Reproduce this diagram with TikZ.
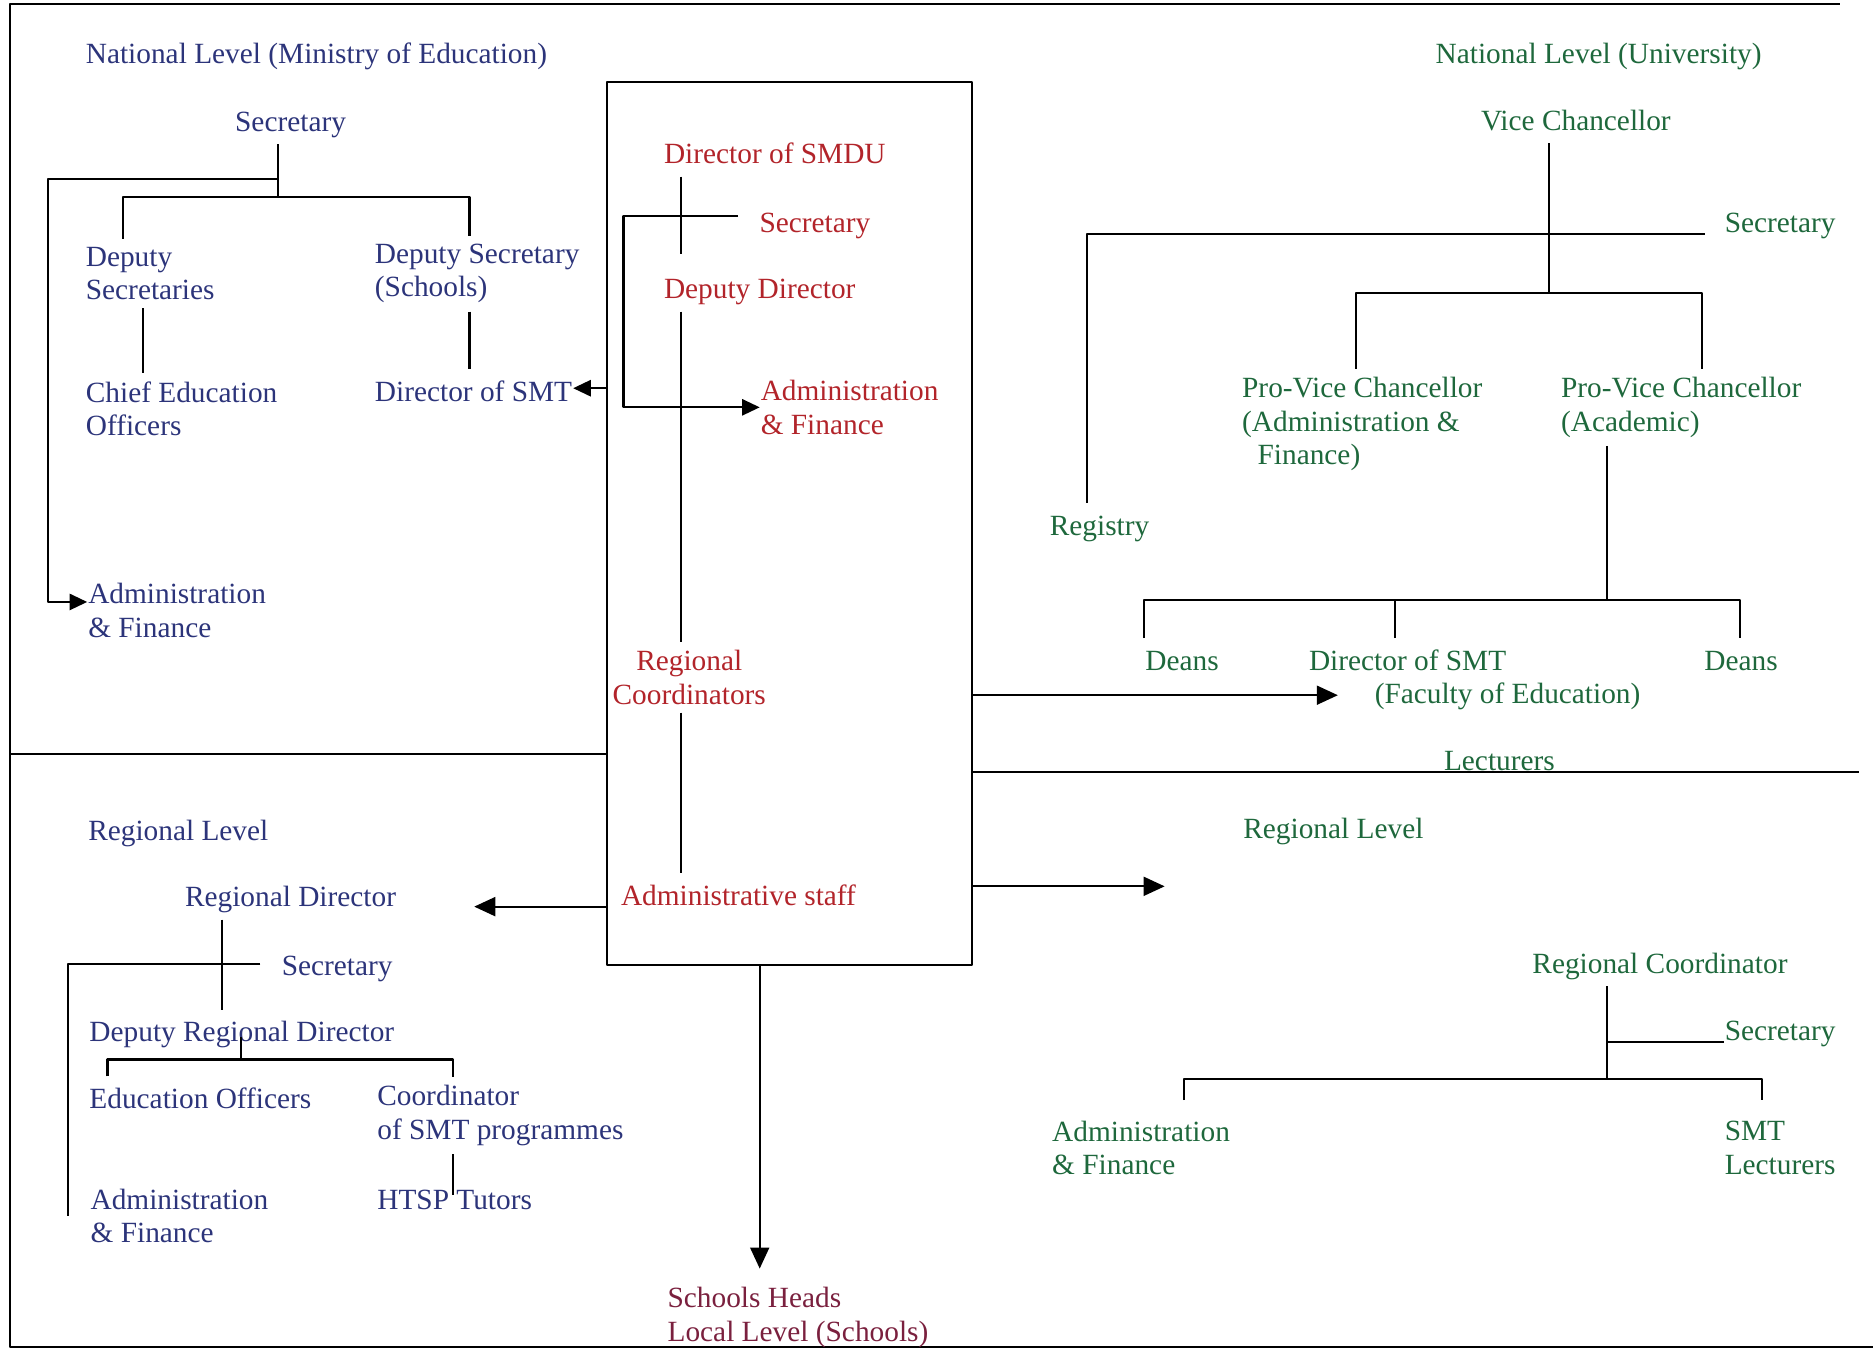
\documentclass[tikz,border=0pt]{standalone}
\usepackage{fontspec}
\setmainfont{Liberation Serif}
\usetikzlibrary{arrows.meta}
\definecolor{minblue}{RGB}{44,52,122}
\definecolor{smdured}{RGB}{178,36,42}
\definecolor{unigreen}{RGB}{30,104,60}
\definecolor{schmaroon}{RGB}{122,32,62}
\begin{document}
\begin{tikzpicture}[x=0.011945cm,y=-0.011945cm,line width=0.6pt,line join=round,
	font=\fontsize{8.35}{9.5}\selectfont,
	lab/.style={inner xsep=0pt,inner ysep=2.1pt,anchor=west},
	one/.style={lab,text height=6.8pt,text depth=1.2pt},
	mb/.style={one,text=minblue},mbb/.style={lab,align=left,text=minblue},
	sr/.style={one,text=smdured},srr/.style={lab,text=smdured},
	ug/.style={one,text=unigreen},ugg/.style={lab,align=left,text=unigreen},
	arr/.style={-{Triangle[length=5pt,width=4.6pt]}},
	bigarr/.style={-{Triangle[length=6pt,width=5.4pt]}}]
	\useasboundingbox (0,0) rectangle (1568,1130);
	% frame and dividers
	\draw (1540,3)--(8,3)--(8,1128)--(1568,1128);
	\node[draw,inner sep=0pt,minimum width=3.655cm,minimum height=8.827cm,anchor=north west] (smdu) at (507,68) {};
	\draw (8,631)--(smdu.west |- 0,631);
	\draw (smdu.east |- 0,646)--(1556,646);
	% Ministry of Education
	\node[mb] (mnat) at (71,45) {National Level (Ministry of Education)};
	\node[mb] (msec) at (196,102) {Secretary};
	\node[mbb] (mdeps) at (71,229) {Deputy\\Secretaries};
	\node[mbb] (mdsch) at (313,229) {Deputy Secretary\\(Schools)};
	\node[mbb] (mceo) at (71,342) {Chief Education\\Officers};
	\node[mb] (mdsmt) at (313,328) {Director of SMT};
	\node[mbb] (maf) at (73,511) {Administration\\\& Finance};
	\coordinate (mj) at (233,165);
	\draw (msec.south -| mj)--(mj);
	\draw[arr] (233,150)--(40,150) |- ([yshift=2.4pt]maf.west);
	\draw (mdeps.north -| 103,0) |- (mj) -| (mdsch.north -| 393,0);
	\draw (mdeps.south -| 120,0)--(mceo.north -| 120,0);
	\draw (mdsch.south -| 393,0)--(mdsmt.north -| 393,0);
	\draw[arr] (smdu.west |- 0,325)--(mdsmt.east |- 0,325);
	% SMDU
	\node[sr] (sdir) at (555,129) {Director of SMDU};
	\node[sr] (ssec) at (635,186) {Secretary};
	\node[sr] (sdep) at (555,242) {Deputy Director};
	\node[srr,align=left] (saf) at (636,341) {Administration\\\& Finance};
	\node[srr,align=center] (sreg) at (512,567) {Regional\\Coordinators};
	\node[sr] (sadm) at (519,750) {Administrative staff};
	\coordinate (sj) at (570,181);
	\draw (sdir.south -| sj)--(570,213);
	\draw[arr] (618,181)--(522,181) |- (saf.west);
	\draw (sdep.south -| sj)--(sreg.north -| sj);
	\draw (sreg.south -| sj)--(sadm.north -| sj);
	\draw[bigarr] (smdu.west |- 0,759)--(397,759);
	\draw[bigarr] (smdu.east |- 0,742)--(975,742);
	\draw[bigarr] (smdu.east |- 0,582)--(1120,582);
	\node[lab,align=left,text=schmaroon] (shead) at (558,1103) {Schools Heads\\Local Level (Schools)};
	\draw[bigarr,shorten >=3pt] (smdu.south -| 636,0)--(shead.north -| 636,0);
	% University
	\node[ug] (unat) at (1201,45) {National Level (University)};
	\node[ug] (uvc) at (1239,101) {Vice Chancellor};
	\node[ug] (usec) at (1443,186) {Secretary};
	\node[ug] (ureg) at (878,440) {Registry};
	\node[ugg] (upva) at (1039,355) {Pro-Vice Chancellor\\(Administration \&\\\hspace{4.4pt}Finance)};
	\node[ugg] (upvc) at (1306,341) {Pro-Vice Chancellor\\(Academic)};
	\node[ug] (udeana) at (958,553) {Deans};
	\node[ug] (udsmt) at (1095,553) {Director of SMT};
	\node[ug] (ufac) at (1150,581) {(Faculty of Education)};
	\node[ug] (udeanb) at (1426,553) {Deans};
	\node[ug] (ulec) at (1208,637) {Lecturers};
	\coordinate (uj) at (1297,245);
	\coordinate (uk) at (1345,502);
	\draw (uvc.south -| uj)--(uj);
	\draw (1427,196)--(910,196)--(ureg.north -| 910,0);
	\draw (upva.north -| 1135,0) |- (uj) -| (upvc.north -| 1425,0);
	\draw (upvc.south -| uk)--(uk);
	\draw (udeana.north -| 958,0) |- (uk) -| (udeanb.north -| 1457,0);
	\draw (udsmt.north -| 1168,0)--(1168,502);
	% University, regional
	\node[ug] (urlev) at (1040,694) {Regional Level};
	\node[ug] (urc) at (1282,807) {Regional Coordinator};
	\node[ug] (ursec) at (1443,863) {Secretary};
	\node[ugg] (uraf) at (880,961) {Administration\\\& Finance};
	\node[ugg] (urlec) at (1443,961) {SMT\\Lecturers};
	\coordinate (ul) at (1345,903);
	\draw (urc.south -| ul)--(ul);
	\draw (1345,872)--(ursec.west |- 0,872);
	\draw (991,921) |- (ul) -| (1475,921);
	% Ministry, regional
	\node[mb] (mrlev) at (73,695) {Regional Level};
	\node[mb] (mrdir) at (154,751) {Regional Director};
	\node[mb] (mrsec) at (235,808) {Secretary};
	\node[mb] (mrdep) at (74,864) {Deputy Regional Director};
	\node[mb] (mreo) at (74,920) {Education Officers};
	\node[mbb] (mrco) at (315,934) {Coordinator\\of SMT programmes};
	\node[mbb] (mraf) at (75,1018) {Administration\\\& Finance};
	\node[mb] (mrht) at (315,1004) {HTSP Tutors};
	\coordinate (mrj) at (202,887);
	\draw (mrdir.south -| 186,0)--(mrdep.north -| 186,0);
	\draw (218,807)--(57,807)--(57,1018);
	\draw (mreo.north -| 90,0) |- (mrj) -| (mrco.north -| 379,0);
	\draw (mrj)--(202,868);
	\draw (mrco.south -| 379,0)--(379,1000);
\end{tikzpicture}
\end{document}
